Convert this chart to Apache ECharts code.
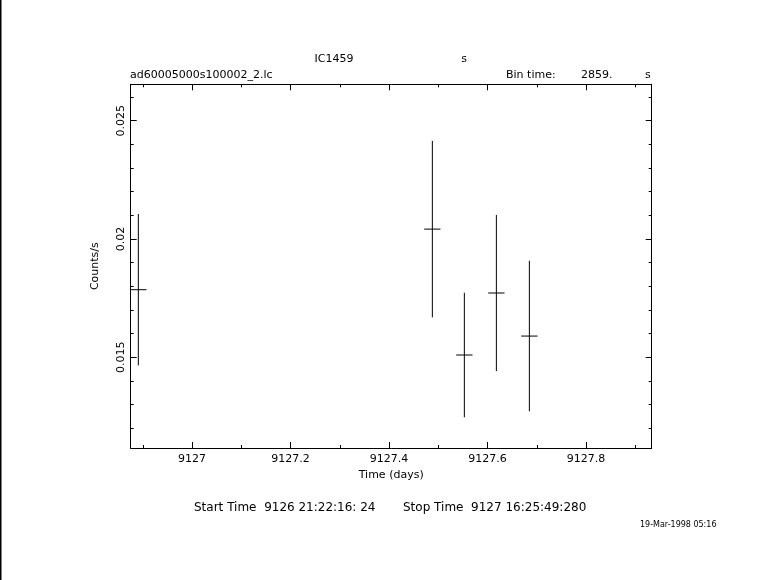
<!DOCTYPE html>
<html>
<head>
<meta charset="utf-8">
<script src="https://cdn.jsdelivr.net/npm/echarts@6/dist/echarts.min.js"></script>
<style>
html,body{margin:0;padding:0;background:#fff;}
#chart{width:781px;height:580px;}
</style>
</head>
<body>
<div id="chart"></div>
<script>
// ---- data ----
const times = [9126.891, 9127.488, 9127.553, 9127.618, 9127.685];   // days
const rates = [0.01786, 0.02042, 0.01510, 0.01772, 0.01590];        // counts/s
const rateErrors = [0.00320, 0.00373, 0.00263, 0.00330, 0.00318];
const binTime = 2859; // seconds
const xMajorTicks = [9127, 9127.2, 9127.4, 9127.6, 9127.8];
const xMinorTicks = [9126.9, 9127.1, 9127.3, 9127.5, 9127.7, 9127.9];
const yMajorTicks = [0.015, 0.02, 0.025];
const yMinorTicks = [0.012, 0.013, 0.014, 0.016, 0.017, 0.018, 0.019, 0.021, 0.022, 0.023, 0.024, 0.026];
const xRange = [9126.8755, 9127.9334];
const yRange = [0.01117, 0.02654];

const halfBinDays = binTime / 2 / 86400;
const seriesData = times.map((t, i) => [t, rates[i], rateErrors[i], halfBinDays]);

const FONT = 'DejaVu Sans';
const chart = echarts.init(document.getElementById('chart'), null, {renderer: 'canvas'});

function xAxisDef(pos, ticks, len, labels, line) {
  return {
    type: 'value', position: pos, min: xRange[0], max: xRange[1],
    axisLine: {show: line, onZero: false, lineStyle: {color: '#000', width: 1}},
    axisTick: {show: true, inside: true, length: len, customValues: ticks, lineStyle: {color: '#000', width: 1}},
    axisLabel: labels ? {show: true, customValues: ticks, margin: 6, color: '#000', fontFamily: FONT, fontSize: 11,
      formatter: v => String(+(+v).toFixed(1))} : {show: false},
    splitLine: {show: false},
    name: (labels ? 'Time (days)' : ''), nameLocation: 'middle', nameGap: 21,
    nameTextStyle: {color: '#000', fontFamily: FONT, fontSize: 11}
  };
}
function yAxisDef(pos, ticks, len, labels, line) {
  return {
    type: 'value', position: pos, min: yRange[0], max: yRange[1],
    axisLine: {show: line, onZero: false, lineStyle: {color: '#000', width: 1}},
    axisTick: {show: true, inside: true, length: len, customValues: ticks, lineStyle: {color: '#000', width: 1}},
    axisLabel: labels ? {show: true, customValues: ticks, rotate: 90, margin: 4, color: '#000', fontFamily: FONT, fontSize: 11,
      formatter: v => String(+(+v).toFixed(3))} : {show: false},
    splitLine: {show: false},
    name: (labels ? 'Counts/s' : ''), nameLocation: 'middle', nameGap: 30, nameRotate: 90,
    nameTextStyle: {color: '#000', fontFamily: FONT, fontSize: 11}
  };
}

const option = {
  backgroundColor: '#fff',
  animation: false,
  grid: {left: 130.7, top: 84.3, right: 129.3, bottom: 132, containLabel: false},
  xAxis: [
    xAxisDef('bottom', xMajorTicks, 6, true, true),
    xAxisDef('bottom', xMinorTicks, 3, false, false),
    xAxisDef('top', xMajorTicks, 6, false, true),
    xAxisDef('top', xMinorTicks, 3, false, false)
  ],
  yAxis: [
    yAxisDef('left', yMajorTicks, 6, true, true),
    yAxisDef('left', yMinorTicks, 3, false, false),
    yAxisDef('right', yMajorTicks, 6, false, true),
    yAxisDef('right', yMinorTicks, 3, false, false)
  ],
  graphic: [
    {type: 'rect', left: 0, top: 0, shape: {width: 1.5, height: 580}, style: {fill: '#000'}},
    {type: 'text', x: 334, y: 59, style: {text: 'IC1459', fill: '#000', font: '11px "DejaVu Sans"', align: 'center', verticalAlign: 'middle'}},
    {type: 'text', x: 464, y: 59, style: {text: 's', fill: '#000', font: '11px "DejaVu Sans"', align: 'center', verticalAlign: 'middle'}},
    {type: 'text', x: 130, y: 75, style: {text: 'ad60005000s100002_2.lc', fill: '#000', font: '11px "DejaVu Sans"', align: 'left', verticalAlign: 'middle'}},
    {type: 'text', x: 506, y: 75, style: {text: 'Bin time:', fill: '#000', font: '11px "DejaVu Sans"', align: 'left', verticalAlign: 'middle'}},
    {type: 'text', x: 581, y: 75, style: {text: '2859.', fill: '#000', font: '11px "DejaVu Sans"', align: 'left', verticalAlign: 'middle'}},
    {type: 'text', x: 645, y: 75, style: {text: 's', fill: '#000', font: '11px "DejaVu Sans"', align: 'left', verticalAlign: 'middle'}},
    {type: 'text', x: 194, y: 508, style: {text: 'Start Time  9126 21:22:16: 24', fill: '#000', font: '12px "DejaVu Sans"', align: 'left', verticalAlign: 'middle'}},
    {type: 'text', x: 403, y: 508, style: {text: 'Stop Time  9127 16:25:49:280', fill: '#000', font: '12px "DejaVu Sans"', align: 'left', verticalAlign: 'middle'}},
    {type: 'text', x: 640, y: 525, style: {text: '19-Mar-1998 05:16', fill: '#000', font: '8px "DejaVu Sans"', align: 'left', verticalAlign: 'middle'}}
  ],
  series: [{
    type: 'custom',
    xAxisIndex: 0, yAxisIndex: 0,
    clip: true,
    data: seriesData,
    renderItem: function (params, api) {
      const t = api.value(0), r = api.value(1), e = api.value(2), h = api.value(3);
      const c = api.coord([t, r]);
      const top = api.coord([t, r + e]);
      const bot = api.coord([t, r - e]);
      const l = api.coord([t - h, r]);
      const rr = api.coord([t + h, r]);
      const st = {stroke: '#000', lineWidth: 1};
      return {
        type: 'group',
        children: [
          {type: 'line', shape: {x1: c[0], y1: top[1], x2: c[0], y2: bot[1]}, style: st},
          {type: 'line', shape: {x1: l[0], y1: c[1], x2: rr[0], y2: c[1]}, style: st}
        ]
      };
    }
  }]
};
chart.setOption(option);
</script>
</body>
</html>
